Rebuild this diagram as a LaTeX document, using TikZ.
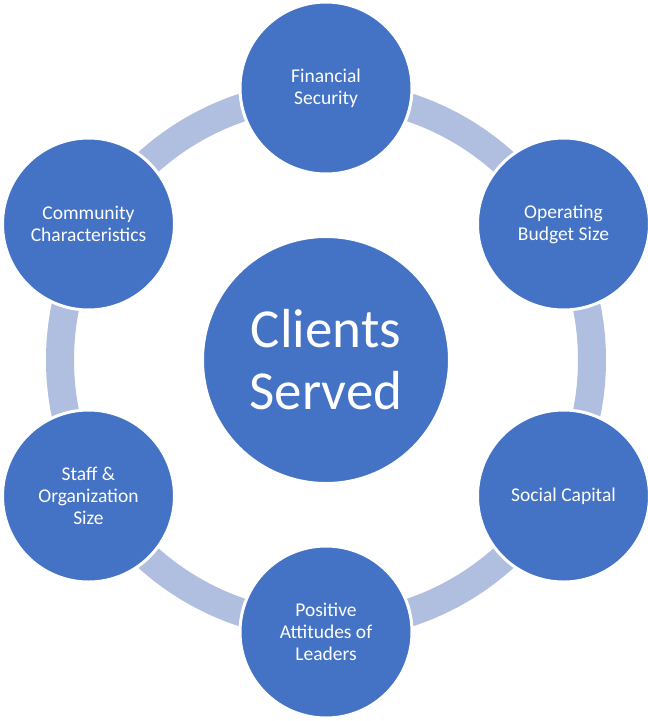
\documentclass[tikz,border=0pt]{standalone}
\usepackage{fontspec}
\setmainfont{Carlito}
\definecolor{circblue}{RGB}{68,114,196}
\definecolor{ringblue}{RGB}{176,190,223}
\begin{document}
\begin{tikzpicture}[x=1pt,y=-1pt,
  outer/.style={circle,fill=circblue,draw=white,line width=3pt,minimum size=172pt,inner sep=0pt,align=center,text=white,font=\fontsize{19.5}{22}\selectfont},
  hub/.style={circle,fill=circblue,draw=white,line width=3pt,minimum size=247pt,inner sep=0pt,align=center,text=white,font=\fontsize{55}{62}\selectfont}]
\useasboundingbox (0,0) rectangle (648,721);
\coordinate (c) at (326,360);
\draw[ringblue,line width=28pt] (c) circle[radius=266];
\node[hub] (hubn) at (c) {Clients\\Served};
\node[outer] (fin) at (326,88) {Financial\\Security};
\node[outer] (ops) at (563.5,224) {Operating\\Budget Size};
\node[outer] (soc) at (563.5,496) {Social Capital};
\node[outer] (pos) at (326,632) {Positive\\Attitudes of\\Leaders};
\node[outer] (sta) at (88.5,496) {Staff \&\\Organization\\Size};
\node[outer] (com) at (88.5,224) {Community\\Characteristics};
\end{tikzpicture}
\end{document}
